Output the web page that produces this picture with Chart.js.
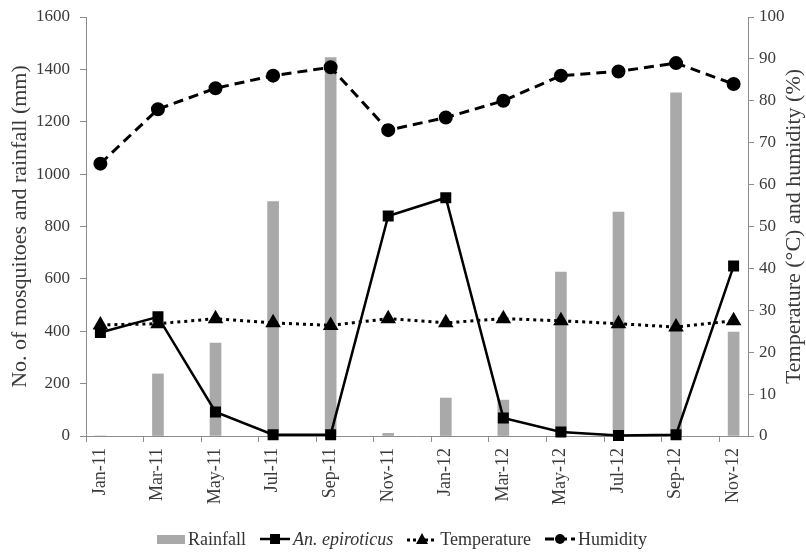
<!DOCTYPE html>
<html>
<head>
<meta charset="utf-8">
<script src="https://cdn.jsdelivr.net/npm/chart.js@4.4.1/dist/chart.umd.min.js"></script>
<style>
  html, body { margin: 0; padding: 0; background: #fff; }
  #wrap { position: relative; width: 806px; height: 552px; }
  #legend {
    position: absolute; left: 157px; top: 528px; height: 22px;
    display: flex; align-items: center;
    font-family: "Liberation Serif", "Times New Roman", serif; font-size: 18px; color: #333;
  }
  #legend .item { display: flex; align-items: center; margin-right: 14px; }
  #legend svg { margin-right: 3px; }
</style>
</head>
<body>
<div id="wrap">
  <canvas id="chart" width="806" height="552"></canvas>
  <div id="legend">
    <div class="item"><svg width="28" height="12"><rect x="0" y="2" width="28" height="9" fill="#a9a9a9"/></svg>Rainfall</div>
    <div class="item"><svg width="30" height="12"><line x1="0" y1="6" x2="30" y2="6" stroke="#000" stroke-width="2.5"/><rect x="10" y="1" width="10" height="10" fill="#000"/></svg><i>An. epiroticus</i></div>
    <div class="item"><svg width="30" height="12"><line x1="0" y1="7" x2="30" y2="7" stroke="#000" stroke-width="3" stroke-dasharray="3,3"/><polygon points="15,0 21,11 9,11" fill="#000"/></svg>Temperature</div>
    <div class="item"><svg width="30" height="12"><line x1="0" y1="6" x2="30" y2="6" stroke="#000" stroke-width="3" stroke-dasharray="9,4"/><circle cx="15" cy="6" r="5" fill="#000"/></svg>Humidity</div>
  </div>
</div>
<script>
const months = ["Jan-11", "Mar-11", "May-11", "Jul-11", "Sep-11", "Nov-11",
                "Jan-12", "Mar-12", "May-12", "Jul-12", "Sep-12", "Nov-12"];
const rainfall = [0, 237, 355, 895, 1445, 10, 145, 137, 626, 855, 1310, 397];
const epiroticus = [395, 455, 92, 5, 5, 840, 910, 69, 15, 2, 5, 649];
const temperature = [26.5, 26.8, 28, 27, 26.4, 28, 27, 28, 27.5, 26.8, 26, 27.5];
const humidity = [65, 78, 83, 86, 88, 73, 76, 80, 86, 87, 89, 84];

const leftTicks = { min: 0, max: 1600, step: 200 };
const rightTicks = { min: 0, max: 100, step: 10 };
const rightTitle = "Temperature (°C) and humidity (%)";

const pts = arr => arr.map((v, i) => ({ x: i, y: v }));

const serif = "'Liberation Serif', 'Times New Roman', serif";
const axisGrey = "#8c8c8c";
const textGrey = "#3a3a3a";

// right axis title reads bottom-to-top like the left one
const rightTitlePlugin = {
  id: "rightTitle",
  afterDraw(chart) {
    const { ctx, chartArea } = chart;
    ctx.save();
    ctx.translate(794, (chartArea.top + chartArea.bottom) / 2);
    ctx.rotate(-Math.PI / 2);
    ctx.font = "22px " + serif;
    ctx.fillStyle = textGrey;
    ctx.textAlign = "center";
    ctx.textBaseline = "middle";
    ctx.fillText(rightTitle, 0, 0);
    ctx.restore();
  },
};

new Chart(document.getElementById("chart"), {
  type: "bar",
  data: {
    datasets: [
      {
        label: "Rainfall",
        data: pts(rainfall),
        backgroundColor: "#a9a9a9",
        barThickness: 11,
        yAxisID: "y",
        order: 5,
      },
      {
        type: "line",
        label: "An. epiroticus",
        data: pts(epiroticus),
        borderColor: "#000",
        backgroundColor: "#000",
        borderWidth: 2.5,
        pointStyle: "rect",
        pointRadius: 6,
        pointHoverRadius: 6,
        tension: 0,
        clip: false,
        yAxisID: "y",
        order: 1,
      },
      {
        type: "line",
        label: "Temperature",
        data: pts(temperature),
        borderColor: "#000",
        backgroundColor: "#000",
        borderWidth: 3,
        borderDash: [3, 4],
        pointStyle: "triangle",
        pointRadius: 6,
        pointHoverRadius: 6,
        tension: 0,
        clip: false,
        yAxisID: "y1",
        order: 2,
      },
      {
        type: "line",
        label: "Humidity",
        data: pts(humidity),
        borderColor: "#000",
        backgroundColor: "#000",
        borderWidth: 3,
        borderDash: [10, 6],
        pointStyle: "circle",
        pointRadius: 5.5,
        pointHoverRadius: 5.5,
        tension: 0,
        clip: false,
        yAxisID: "y1",
        order: 3,
      },
    ],
  },
  options: {
    responsive: false,
    animation: false,
    layout: { padding: { top: 17, left: 0, right: 0, bottom: 0 } },
    plugins: { legend: { display: false }, tooltip: { enabled: false } },
    scales: {
      x: {
        type: "linear",
        offset: false,
        min: -0.25,
        max: months.length - 0.75,
        afterBuildTicks: scale => {
          scale.ticks = months.map((m, i) => ({ value: i - 0.25 }));
        },
        afterFit: scale => { scale.height = 116; },
        grid: { drawOnChartArea: false, color: axisGrey, tickLength: 6, offset: false },
        border: { color: axisGrey, width: 1 },
        ticks: {
          autoSkip: false,
          minRotation: 90,
          maxRotation: 90,
          labelOffset: 14,
          padding: 6,
          color: textGrey,
          font: { family: serif, size: 18 },
          callback: (value, index) => months[index],
        },
      },
      y: {
        position: "left",
        min: leftTicks.min,
        max: leftTicks.max,
        afterFit: scale => { scale.width = 86; scale.paddingTop = 0; scale.paddingBottom = 0; },
        grid: { drawOnChartArea: false, color: axisGrey, tickLength: 6 },
        border: { color: axisGrey, width: 1 },
        ticks: {
          stepSize: leftTicks.step,
          padding: 10,
          color: textGrey,
          font: { family: serif, size: 17 },
          callback: value => String(value),
        },
        title: {
          display: true,
          text: "No. of mosquitoes and rainfall (mm)",
          color: textGrey,
          font: { family: serif, size: 22 },
          padding: { top: 7, bottom: 0 },
        },
      },
      y1: {
        position: "right",
        min: rightTicks.min,
        max: rightTicks.max,
        afterFit: scale => { scale.width = 58; scale.paddingTop = 0; scale.paddingBottom = 0; },
        grid: { drawOnChartArea: false, color: axisGrey, tickLength: 6 },
        border: { color: axisGrey, width: 1 },
        ticks: {
          stepSize: rightTicks.step,
          padding: 5,
          color: textGrey,
          font: { family: serif, size: 17 },
        },
      },
    },
  },
  plugins: [rightTitlePlugin],
});
</script>
</body>
</html>
